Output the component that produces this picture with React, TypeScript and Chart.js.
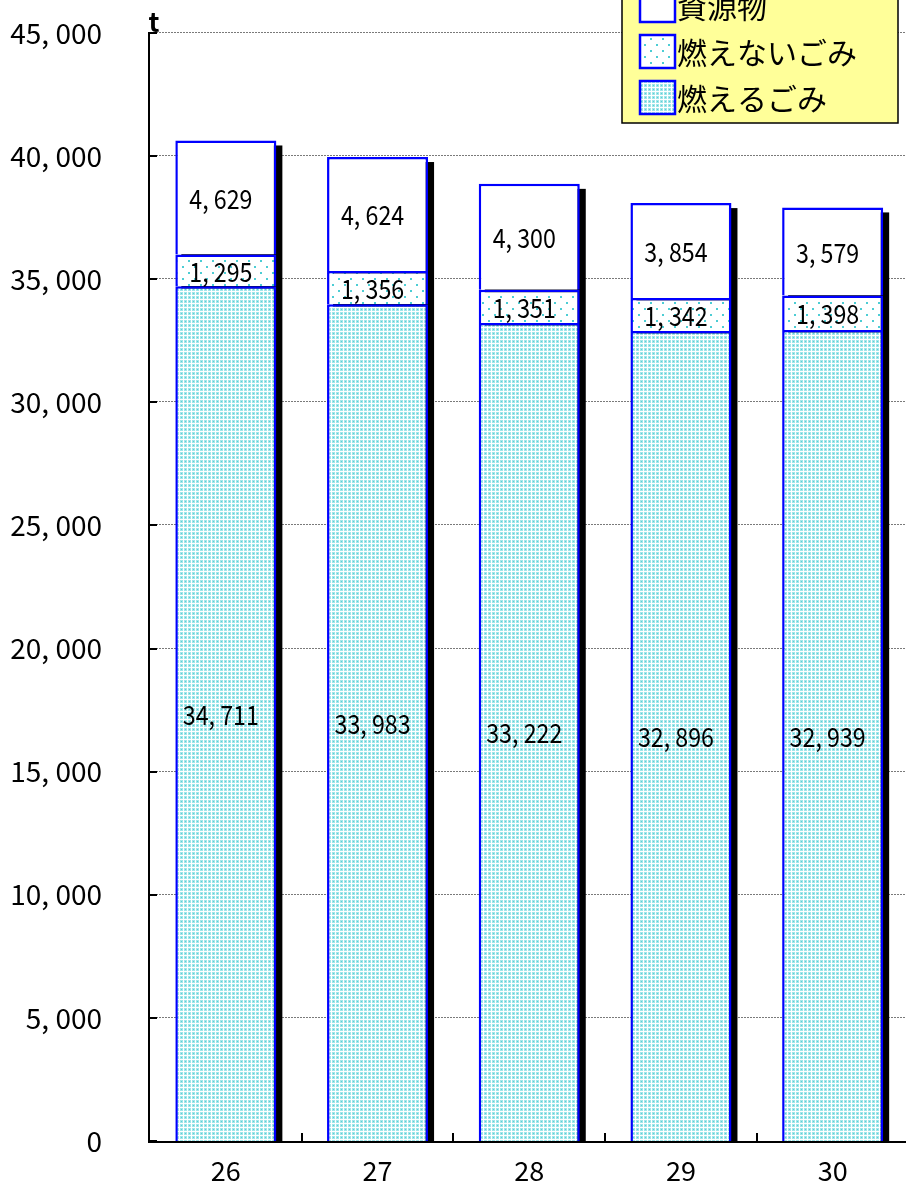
import React, { useEffect, useRef } from "react";
import { Chart, registerables } from "chart.js";
Chart.register(...registerables);

const categories = ["26", "27", "28", "29", "30"];
const burnable = [34711, 33983, 33222, 32896, 32939];
const nonBurnable = [1295, 1356, 1351, 1342, 1398];
const recyclables = [4629, 4624, 4300, 3854, 3579];
const seriesLabels = ["燃えるごみ", "燃えないごみ", "資源物"];
const yMin = 0;
const yMax = 45000;
const yStep = 5000;
const unitLabel = "t";

const W = 920;
const H = 1188;
const FONT = '"Noto Sans CJK JP", "Noto Sans", sans-serif';

function fmt(v: number): string {
  return Number(v).toLocaleString("en-US").replace(/,/g, ", ");
}

function makePattern(ctx: CanvasRenderingContext2D, kind: string): CanvasPattern | string {
  const c = document.createElement("canvas");
  const g = c.getContext("2d");
  if (!g) return "#fff";
  if (kind === "dense") {
    c.width = 4;
    c.height = 4;
    g.fillStyle = "#ffffff";
    g.fillRect(0, 0, 4, 4);
    g.fillStyle = "#a2e6ea";
    g.fillRect(0, 0, 3, 3);
    g.fillStyle = "#5ccfd5";
    g.fillRect(1, 1, 1, 1);
  } else if (kind === "sparse") {
    c.width = 12;
    c.height = 12;
    g.fillStyle = "#ffffff";
    g.fillRect(0, 0, 12, 12);
    g.fillStyle = "#4ccdd4";
    g.fillRect(2, 2, 2, 2);
    g.fillRect(8, 8, 2, 2);
  } else {
    return "#ffffff";
  }
  return ctx.createPattern(c, "repeat") || "#fff";
}

const decorPlugin = {
  id: "decor",
  beforeDatasetsDraw(chart: any) {
    const { ctx, chartArea: a, scales } = chart;
    const y = scales.y;
    ctx.save();
    ctx.strokeStyle = "#7a7a7a";
    ctx.lineWidth = 1;
    ctx.setLineDash([2, 1]);
    y.ticks.forEach((t: any) => {
      if (t.value === yMin) return;
      const py = Math.round(y.getPixelForValue(t.value)) - 0.5;
      ctx.beginPath();
      ctx.moveTo(a.left, py);
      ctx.lineTo(a.right, py);
      ctx.stroke();
    });
    ctx.setLineDash([]);
    // drop shadows of stacks
    ctx.beginPath();
    ctx.rect(a.left, a.top - 20, a.right - a.left + 20, a.bottom - a.top + 20);
    ctx.clip();
    const n = chart.data.datasets.length;
    const topEls = chart.getDatasetMeta(n - 1).data;
    const botEls = chart.getDatasetMeta(0).data;
    ctx.fillStyle = "#000";
    topEls.forEach((el: any, i: number) => {
      const p = el.getProps(["x", "y", "width"], true);
      const b = botEls[i].getProps(["base"], true).base;
      ctx.fillRect(p.x - p.width / 2 + 6, p.y + 5, p.width, b - p.y);
    });
    ctx.restore();
  },
  afterDatasetsDraw(chart: any) {
    const { ctx, chartArea: a, scales } = chart;
    const x = scales.x;
    const y = scales.y;
    ctx.save();
    // value labels
    ctx.fillStyle = "#000";
    ctx.font = `27px ${FONT}`;
    ctx.textAlign = "center";
    ctx.textBaseline = "middle";
    chart.data.datasets.forEach((ds: any, di: number) => {
      const meta = chart.getDatasetMeta(di);
      meta.data.forEach((el: any, i: number) => {
        const p = el.getProps(["x", "y", "base"], true);
        const cy = (p.y + p.base) / 2;
        ctx.save();
        ctx.translate(p.x - 5, cy + 1);
        ctx.scale(0.86, 1);
        ctx.fillText(fmt(ds.data[i]), 0, 0);
        ctx.restore();
      });
    });
    // axes
    ctx.strokeStyle = "#000";
    ctx.lineWidth = 2;
    ctx.beginPath();
    ctx.moveTo(a.left - 1, a.top - 1);
    ctx.lineTo(a.left - 1, a.bottom + 2);
    ctx.moveTo(a.left - 2, a.bottom + 1);
    ctx.lineTo(a.right, a.bottom + 1);
    ctx.stroke();
    // inward ticks
    ctx.beginPath();
    y.ticks.forEach((t: any) => {
      const py = Math.round(y.getPixelForValue(t.value));
      ctx.moveTo(a.left, py);
      ctx.lineTo(a.left + 7, py);
    });
    for (let i = 0; i < categories.length; i++) {
      const p0 = x.getPixelForValue(i);
      const p1 = i + 1 < categories.length ? x.getPixelForValue(i + 1) : p0 + (p0 - x.getPixelForValue(i - 1));
      const bx = Math.round((p0 + p1) / 2);
      ctx.moveTo(bx, a.bottom);
      ctx.lineTo(bx, a.bottom - 8);
    }
    ctx.stroke();
    // unit label
    ctx.font = `bold 26px ${FONT}`;
    ctx.textAlign = "center";
    ctx.textBaseline = "alphabetic";
    ctx.fillText(unitLabel, a.left + 4, a.top - 1);
    // legend
    const lx = 622;
    const ly = -20;
    const lw = 276;
    const lh = 143;
    ctx.fillStyle = "#ffff99";
    ctx.fillRect(lx, ly, lw, lh);
    ctx.strokeStyle = "#000";
    ctx.lineWidth = 1.5;
    ctx.strokeRect(lx, ly, lw, lh);
    ctx.font = `30px ${FONT}`;
    ctx.textAlign = "left";
    ctx.textBaseline = "middle";
    const order = chart.data.datasets.map((_: any, i: number) => i).reverse();
    order.forEach((di: number, row: number) => {
      const ds = chart.data.datasets[di];
      const cy = 5.5 + row * 46;
      ctx.fillStyle = ds.backgroundColor;
      ctx.fillRect(639, cy - 17.5, 37, 35);
      ctx.strokeStyle = "#0000ff";
      ctx.lineWidth = 2.5;
      ctx.strokeRect(640, cy - 16.5, 35, 33);
      ctx.fillStyle = "#000";
      ctx.fillText(ds.label, 677, cy + 1);
    });
    ctx.restore();
  },
};

export default function App() {
  const ref = useRef<HTMLCanvasElement | null>(null);
  useEffect(() => {
    const canvas = ref.current;
    if (!canvas) return;
    const ctx = canvas.getContext("2d") as CanvasRenderingContext2D;
    const dense = makePattern(ctx, "dense");
    const sparse = makePattern(ctx, "sparse");
    const chart = new Chart(canvas, {
      type: "bar",
      data: {
        labels: categories,
        datasets: [
          { label: seriesLabels[0], data: burnable, backgroundColor: dense as any, borderColor: "#0000ff", borderWidth: 2.5 },
          { label: seriesLabels[1], data: nonBurnable, backgroundColor: sparse as any, borderColor: "#0000ff", borderWidth: 2.5 },
          { label: seriesLabels[2], data: recyclables, backgroundColor: "#ffffff", borderColor: "#0000ff", borderWidth: 2.5 },
        ],
      },
      options: {
        responsive: false,
        animation: false,
        devicePixelRatio: 1,
        layout: { padding: { top: 33, right: 11.5, left: 0, bottom: 0 } },
        datasets: { bar: { barPercentage: 0.666, categoryPercentage: 1 } },
        plugins: { legend: { display: false }, tooltip: { enabled: false } },
        scales: {
          x: {
            stacked: true,
            grid: { display: false },
            border: { display: false },
            ticks: { color: "#000", font: { family: FONT, size: 27 }, padding: 6 },
            afterFit: (s: any) => {
              s.height = 47;
              s.paddingLeft = 0;
              s.paddingRight = 0;
              s.paddingTop = 0;
              s.paddingBottom = 0;
            },
          },
          y: {
            stacked: true,
            min: yMin,
            max: yMax,
            grid: { display: false },
            border: { display: false },
            ticks: {
              stepSize: yStep,
              color: "#000",
              font: { family: FONT, size: 28 },
              padding: 40,
              callback: (v: any) => fmt(Number(v)),
            },
            afterFit: (s: any) => {
              s.width = 150;
              s.paddingLeft = 0;
              s.paddingRight = 0;
              s.paddingTop = 0;
              s.paddingBottom = 0;
            },
          },
        },
      } as any,
      plugins: [decorPlugin],
    });
    return () => chart.destroy();
  }, []);
  return (
    <div style={{ position: "absolute", left: 0, top: 0, width: 906, height: H, overflow: "hidden", background: "#fff" }}>
      <canvas ref={ref} width={W} height={H} style={{ display: "block", width: W, height: H }} />
    </div>
  );
}
